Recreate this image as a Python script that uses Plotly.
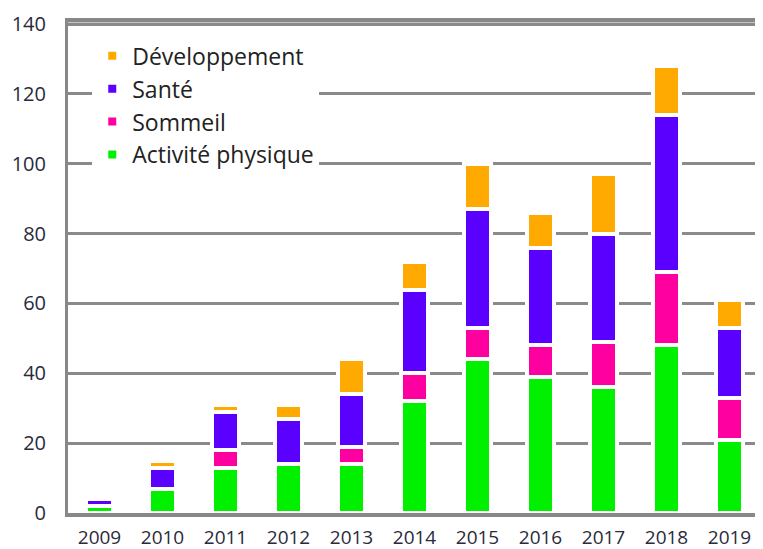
import plotly.graph_objects as go

years = ["2009", "2010", "2011", "2012", "2013", "2014", "2015", "2016", "2017", "2018", "2019"]
activite = [2, 7, 13, 14, 14, 32, 44, 39, 36, 48, 21]
sommeil = [0, 0, 5, 0, 5, 8, 9, 9, 13, 21, 12]
sante = [2, 6, 11, 13, 15, 24, 34, 28, 31, 45, 20]
developpement = [0, 2, 2, 4, 10, 8, 13, 10, 17, 14, 8]
y_ticks = [0, 20, 40, 60, 80, 100, 120, 140]

series = [
    ("Activité physique", activite, "#00F000"),
    ("Sommeil", sommeil, "#FF00A0"),
    ("Santé", sante, "#5A00FF"),
    ("Développement", developpement, "#FFAA00"),
]

fig = go.Figure()
for name, vals, color in series:
    fig.add_trace(go.Bar(
        x=years, y=vals, name=name,
        marker=dict(color=color, line=dict(color="white", width=4)),
        width=0.42,
    ))

# the page body has an 8px margin, so the figure is sized to compensate
fig.update_layout(
    barmode="stack",
    width=755, height=541,
    margin=dict(l=60, r=2, t=14, b=36),
    paper_bgcolor="white", plot_bgcolor="white",
    font=dict(family="Open Sans", color="#222"),
    legend=dict(
        x=0.035, y=0.975, xanchor="left", yanchor="top",
        bgcolor="white", traceorder="reversed",
        font=dict(size=23, color="#222"),
    ),
    xaxis=dict(
        type="category", range=[-0.5, 10.5], automargin=False,
        showline=True, linecolor="#888", linewidth=4, mirror=True,
        showgrid=False, ticks="", ticklabelstandoff=4,
        tickfont=dict(size=19, color="#2a2a3a"),
    ),
    yaxis=dict(
        range=[0, 140.6], tickvals=y_ticks,
        automargin=False,
        showline=True, linecolor="#888", linewidth=3,
        showgrid=True, gridcolor="#8a8a8a", gridwidth=3,
        zeroline=False, ticks="", ticklabelstandoff=15,
        tickfont=dict(size=20, color="#2a2a3a"),
    ),
    shapes=[dict(
        type="line", xref="paper", yref="y", x0=0, x1=1,
        y0=y_ticks[-1], y1=y_ticks[-1], layer="above",
        line=dict(color="#8a8a8a", width=3),
    )],
)

fig.write_html("out.html")
